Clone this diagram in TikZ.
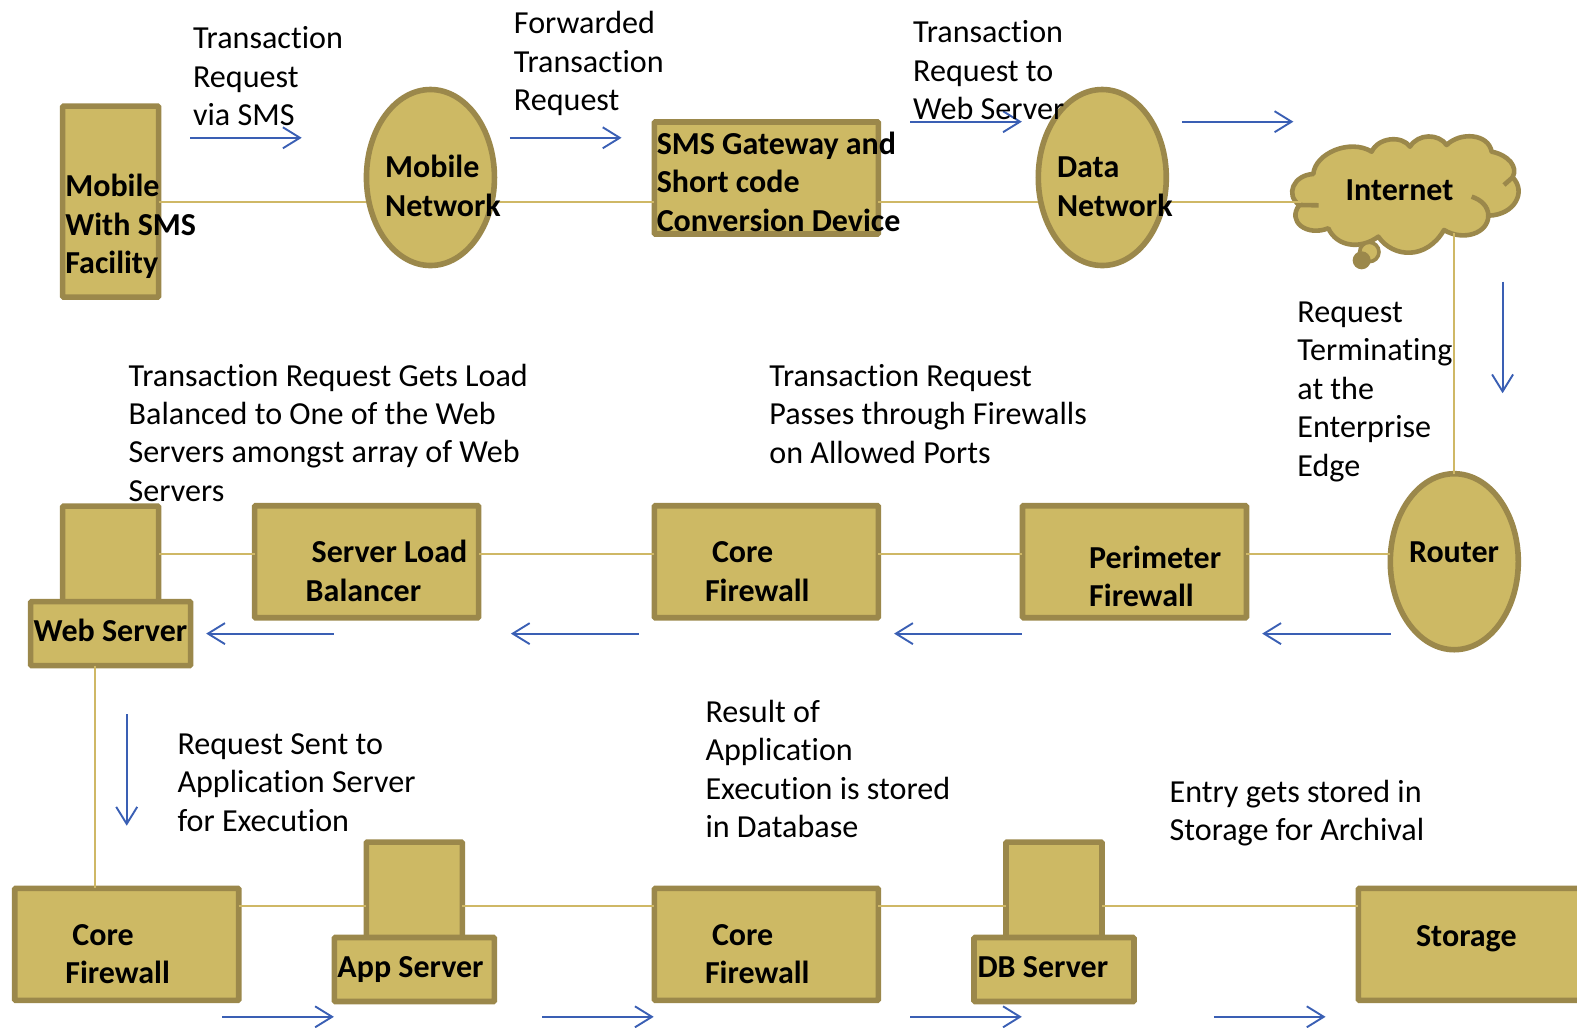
\documentclass[tikz,border=0pt]{standalone}
\usepackage{fontspec}
\setmainfont[Ligatures=NoCommon]{Carlito}
\usetikzlibrary{shapes.geometric,arrows.meta}
\definecolor{gfill}{HTML}{CDB964}
\definecolor{gedge}{HTML}{9B884B}
\definecolor{gline}{HTML}{CFB866}
\definecolor{aflow}{HTML}{3A5FB4}
\tikzset{
  shp/.style={draw=gedge,fill=gfill,line width=5.6pt,inner sep=0pt,outer sep=0pt},
  boxs/.style={shp,rectangle,rounded corners=1pt,minimum width=#1},
  boxs/.default=224,
  oval/.style={shp,ellipse,minimum width=128pt,minimum height=176pt},
  link/.style={draw=gline,line width=2pt},
  flow/.style={draw=aflow,line width=1.9pt,-{Straight Barb[length=17pt,width=21pt,line width=1.9pt]}},
  txt/.style={anchor=base west,align=left,inner sep=0pt,outer sep=0pt,font=\fontsize{32.1}{38.45}\selectfont},
  btxt/.style={txt,font=\fontsize{32}{38.45}\selectfont\bfseries},
}
\begin{document}
\begin{tikzpicture}[x=1pt,y=-1pt]
\clip (0,0) rectangle (1577,1028);
\begin{scope}[x=1.00574pt,y=-1.00574pt]
% shapes, row 1
\node[boxs=96pt,minimum height=191pt] (mob) at (110,200.5) {};
\node[oval] (net) at (428,176.5) {};
\node[boxs=224pt,minimum height=112pt] (sms) at (762,177) {};
\node[oval] (data) at (1096,176.5) {};
% cloud
\begin{scope}[shift={(1242.87,99.43)},x=0.3333pt,y=-0.3333pt]
\draw[draw=gedge,fill=gfill,line width=4.6pt,line join=round]
 (190,222) .. controls (195,160) and (300,115) .. (365,155)
 .. controls (385,112) and (455,105) .. (480,140)
 .. controls (505,100) and (565,100) .. (590,135)
 .. controls (630,95) and (715,100) .. (725,155)
 .. controls (775,165) and (805,200) .. (788,232)
 .. controls (830,275) and (795,345) .. (715,347)
 .. controls (715,400) and (640,425) .. (582,390)
 .. controls (530,480) and (430,475) .. (385,410)
 .. controls (330,450) and (260,440) .. (235,385)
 .. controls (170,410) and (110,365) .. (148,315)
 .. controls (105,285) and (130,225) .. (190,222) -- cycle;
\draw[draw=gedge,line width=4.6pt]
 (762,255) -- (788,232)
 (665,290) .. controls (695,300) and (715,320) .. (715,347)
 (148,315) -- (206,316);
\draw[draw=gedge,fill=gfill,line width=3.6pt] (358,456) circle[radius=29];
\fill[gedge] (335,481) circle[radius=27];
\end{scope}
\node[inner sep=0pt,outer sep=0pt,minimum width=196pt,minimum height=88pt] (inet) at (1391,188) {};
% shapes, row 2
\node[oval] (router) at (1446,558.5) {};
\node[boxs=224pt,minimum height=112pt] (perim) at (1128,558.5) {};
\node[boxs=224pt,minimum height=112pt] (core1) at (762,558.5) {};
\node[boxs=224pt,minimum height=112pt] (slb) at (364.5,558.5) {};
\node[boxs=96pt,minimum height=98pt] (webt) at (110,552) {};
\node[boxs=160pt,minimum height=64pt] (web) at (110,630) {};
% shapes, row 3
\node[boxs=224pt,minimum height=112pt] (core2) at (126,939) {};
\node[boxs=96pt,minimum height=96pt] (appt) at (412,885) {};
\node[boxs=160pt,minimum height=64pt] (app) at (412,964) {};
\node[boxs=224pt,minimum height=112pt] (core3) at (762,939) {};
\node[boxs=96pt,minimum height=96pt] (dbt) at (1048,885) {};
\node[boxs=160pt,minimum height=64pt] (db) at (1048,964) {};
\node[boxs=224pt,minimum height=112pt] (stor) at (1462,939) {};
% connectors
\coordinate (ya) at (0,200.5);
\coordinate (yb) at (0,550.5);
\coordinate (yc) at (0,900.5);
\coordinate (xw) at (94,0);
\draw[link] (mob.east |- ya) -- (net.west |- ya);
\draw[link] (net.east |- ya) -- (sms.west |- ya);
\draw[link] (sms.east |- ya) -- (data.west |- ya);
\draw[link] (data.east |- ya) -- (inet.west |- ya);
\draw[link] (inet.south -| router.north) -- (router.north);
\draw[link] (router.west |- yb) -- (perim.east |- yb);
\draw[link] (perim.west |- yb) -- (core1.east |- yb);
\draw[link] (core1.west |- yb) -- (slb.east |- yb);
\draw[link] (slb.west |- yb) -- (webt.east |- yb);
\draw[link] (web.south -| xw) -- (core2.north -| xw);
\draw[link] (core2.east |- yc) -- (appt.west |- yc);
\draw[link] (appt.east |- yc) -- (core3.west |- yc);
\draw[link] (core3.east |- yc) -- (dbt.west |- yc);
\draw[link] (dbt.east |- yc) -- (stor.west |- yc);
% flow arrows
\foreach \n/\ax/\ay/\bx/\by in {
 f1/189/137/300/137, f2/507/137/618/137, f3/905/121/1016/121, f4/1175/121/1286/121,
 f5/1494/280/1494/391, f6/1383/630/1255/630, f7/1016/630/889/630, f8/635/630/508/630,
 f9/332/630/205/630, f10/126/710/126/821, f11/221/1011/332/1011, f12/539/1011/650/1011,
 f13/905/1011/1016/1011, f14/1207/1011/1318/1011}{
  \coordinate (\n s) at (\ax,\ay);
  \coordinate (\n e) at (\bx,\by);
  \draw[flow] (\n s) -- (\n e);
}
% shape labels (y is the baseline of the last line)
\node[btxt] (tmob) at (65,272) {Mobile\\With SMS\\Facility};
\node[btxt] (tnet) at (383,215) {Mobile\\Network};
\node[btxt] (tsms) at (653,230) {SMS Gateway and\\Short code\\Conversion Device};
\node[btxt] (tdata) at (1051,215) {Data\\Network};
\node[btxt] (tinet) at (1338,199) {Internet};
\node[btxt] (trouter) at (1401,559) {Router};
\node[btxt] (tperim) at (1083,603) {Perimeter\\Firewall};
\node[btxt] (tcore1) at (701,598) {\hspace*{7pt}Core\\Firewall};
\node[btxt] (tslb) at (304,598) {\hspace*{6pt}Server Load\\Balancer};
\node[btxt] (tweb) at (33.5,638) {Web Server};
\node[btxt] (tcore2) at (65,978) {\hspace*{7pt}Core\\Firewall};
\node[btxt] (tapp) at (335.5,972) {App Server};
\node[btxt] (tcore3) at (701,978) {\hspace*{7pt}Core\\Firewall};
\node[btxt] (tdb) at (972,972) {DB Server};
\node[btxt] (tstor) at (1408,941) {Storage};
% captions
\node[txt] (c1) at (192,125) {Transaction\\Request\\via SMS};
\node[txt] (c2) at (511,110) {Forwarded\\Transaction\\Request};
\node[txt] (c3) at (908,119) {Transaction\\Request to\\Web Server};
\node[txt] (c4) at (1290,473.5) {Request\\Terminating\\at the\\Enterprise\\Edge};
\node[txt] (c5) at (128,498.5) {Transaction Request Gets Load\\Balanced to One of the Web\\Servers amongst array of Web\\Servers};
\node[txt] (c6) at (765,460.5) {Transaction Request\\Passes through Firewalls\\on Allowed Ports};
\node[txt] (c7) at (176.5,826.5) {Request Sent to\\Application Server\\for Execution};
\node[txt] (c8) at (701.5,833) {Result of\\Application\\Execution is stored\\in Database};
\node[txt] (c9) at (1163,836) {Entry gets stored in\\Storage for Archival};
\end{scope}
\end{tikzpicture}
\end{document}
